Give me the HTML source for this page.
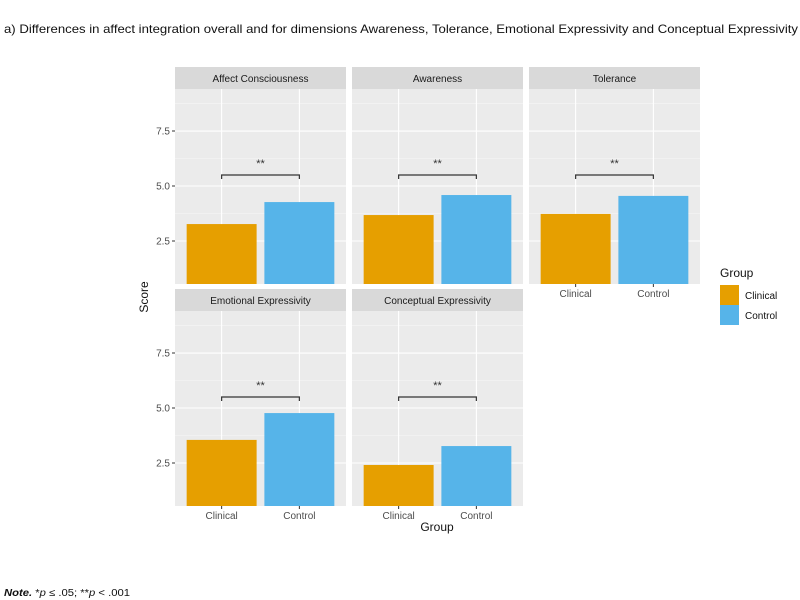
<!DOCTYPE html>
<html><head><meta charset="utf-8"><style>
body{margin:0;background:#fff;}
svg{display:block;font-family:"Liberation Sans",Arial,sans-serif;}
</style></head><body>
<svg id="c" width="800" height="600" xmlns="http://www.w3.org/2000/svg">
<text x="4" y="33" font-size="12" fill="#111" textLength="794" lengthAdjust="spacingAndGlyphs">a) Differences in affect integration overall and for dimensions Awareness, Tolerance, Emotional Expressivity and Conceptual Expressivity</text>
<g id="panels"></g>
<text transform="translate(148,297) rotate(-90)" text-anchor="middle" font-size="12" fill="#111">Score</text>
<text x="437" y="531" text-anchor="middle" font-size="12" fill="#111">Group</text>
<g>
<text x="720" y="277" font-size="12" fill="#111">Group</text>
<rect x="720" y="285" width="19" height="20" fill="#E69F00"/>
<rect x="720" y="305" width="19" height="20" fill="#56B4E9"/>
<text x="745" y="299" font-size="10" fill="#111">Clinical</text>
<text x="745" y="319" font-size="10" fill="#111">Control</text>
</g>
<text x="4" y="596" font-size="10" fill="#111" textLength="126" lengthAdjust="spacingAndGlyphs"><tspan font-style="italic" font-weight="bold">Note.</tspan> *<tspan font-style="italic">p</tspan> ≤ .05; **<tspan font-style="italic">p</tspan> &lt; .001</text>
</svg>
<script>
const panelNames=["Affect Consciousness","Awareness","Tolerance","Emotional Expressivity","Conceptual Expressivity"];
const groups=["Clinical","Control"];
const clinicalValues=[3.27,3.68,3.73,3.55,2.41];
const controlValues=[4.27,4.59,4.55,4.77,3.27];
const sigLabels=["**","**","**","**","**"];
const yTicks=[2.5,5.0,7.5];
const yTickLabels=["2.5","5.0","7.5"];
const bracketValue=5.5;
const colors=["#E69F00","#56B4E9"];
const NS="http://www.w3.org/2000/svg";
const root=document.getElementById('panels');
function el(t,a,p){const e=document.createElementNS(NS,t);for(const k in a)e.setAttribute(k,a[k]);(p||root).appendChild(e);return e;}
const PW=171,PH=195,yMin=0.545,yMax=9.41;
const panelX=[175,352,529,175,352],panelTop=[89,89,89,311,311];
panelNames.forEach((name,i)=>{
  const x0=panelX[i],y0=panelTop[i];
  const g=el('g',{});
  
  
  const sy=v=>y0+PH-(v-yMin)/(yMax-yMin)*PH;
  const sx=k=>x0+PW*(0.6+k)/2.2;
  const bw=PW*0.9/2.2;
  const strip=el('rect',{x:x0,y:y0-22,width:PW,height:22,fill:'#D9D9D9'},g);
  
  
  const st=el('text',{x:x0+PW/2,y:y0-7,'text-anchor':'middle','font-size':'10',fill:'#1a1a1a'},g);st.textContent=name;
  
  
  el('rect',{x:x0,y:y0,width:PW,height:PH,fill:'#EBEBEB'},g);
  [3.75,6.25,8.75].forEach(v=>el('line',{x1:x0,x2:x0+PW,y1:sy(v),y2:sy(v),stroke:'#F7F7F7','stroke-width':0.6},g));
  yTicks.forEach(v=>el('line',{x1:x0,x2:x0+PW,y1:sy(v),y2:sy(v),stroke:'#fff','stroke-width':1.1},g));
  [0,1].forEach(k=>el('line',{x1:sx(k),x2:sx(k),y1:y0,y2:y0+PH,stroke:'#fff','stroke-width':1.1},g));
  [clinicalValues[i],controlValues[i]].forEach((v,k)=>{
    const r=el('rect',{x:sx(k)-bw/2,y:sy(v),width:bw,height:y0+PH-sy(v),fill:colors[k]},g);
    
    
  });
  const by=sy(bracketValue);
  const br=el('path',{d:`M${sx(0)},${by+4}V${by}H${sx(1)}V${by+4}`,fill:'none',stroke:'#333','stroke-width':1.2},g);
  
  
  const s=el('text',{x:(sx(0)+sx(1))/2,y:by-8,'text-anchor':'middle','font-size':'11',fill:'#333'},g);s.textContent=sigLabels[i];
  
  
  if(i===0||i===3){
    yTicks.forEach((v,j)=>{
      el('line',{x1:x0-3,x2:x0,y1:sy(v),y2:sy(v),stroke:'#333'},g);
      const t=el('text',{x:x0-5,y:sy(v)+3.5,'text-anchor':'end','font-size':'10',fill:'#4D4D4D'},g);t.textContent=yTickLabels[j];
      
      
    });
  }
  if(i>=2){
    groups.forEach((gname,k)=>{
      el('line',{x1:sx(k),x2:sx(k),y1:y0+PH,y2:y0+PH+3,stroke:'#333'},g);
      const t=el('text',{x:sx(k),y:y0+PH+13,'text-anchor':'middle','font-size':'10',fill:'#4D4D4D'},g);t.textContent=gname;
      
      
    });
  }
});
</script>
</body></html>
